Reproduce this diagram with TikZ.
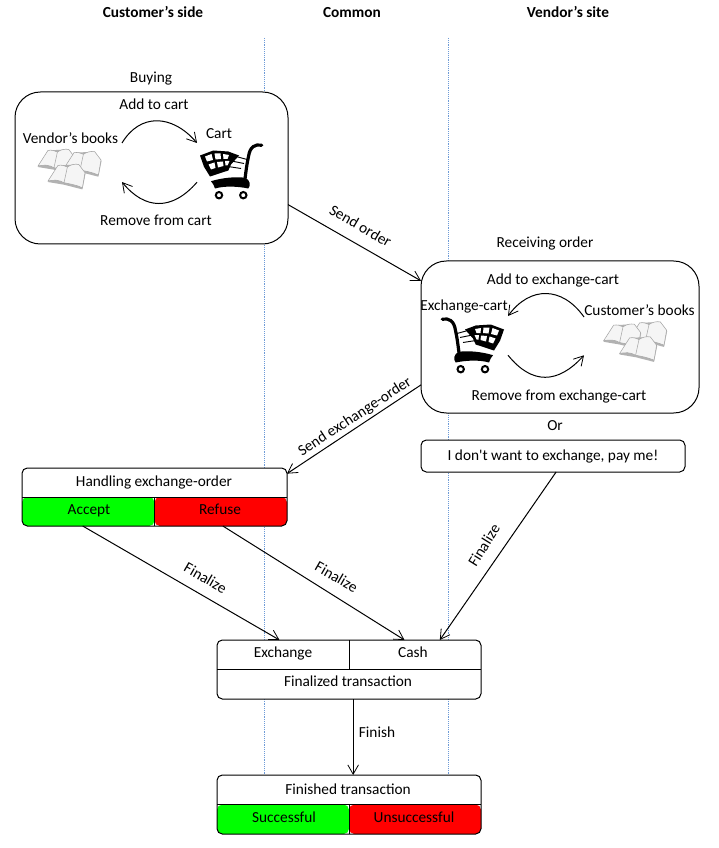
\documentclass[tikz,border=0pt]{standalone}
\usepackage{fontspec}
\setmainfont{Carlito}
\newfontfamily\straightfont{Carlito}
\usetikzlibrary{arrows.meta}
\definecolor{guideblue}{RGB}{110,155,215}
\tikzset{
    flow/.style={draw, line width=0.75pt, -{Straight Barb[length=7pt,width=8pt,line width=0.6pt]}},
    guide/.style={draw=guideblue, line width=0.4pt, densely dotted},
    panel/.style={draw, fill=white, line width=0.75pt, rounded corners=19pt, inner sep=0pt, outer sep=0pt},
    smallbox/.style={draw, fill=white, line width=0.75pt, rounded corners=4pt, inner sep=0pt, outer sep=0pt, minimum width=198pt},
    spot/.style={inner sep=0pt, outer sep=0pt, text height=8.5pt, text depth=2.5pt},
    blank/.style={inner sep=0pt, outer sep=0pt},
    verdict/.style={path picture={
        \fill[green] (path picture bounding box.west) rectangle (path picture bounding box.south);
        \fill[red] (path picture bounding box.south) rectangle (path picture bounding box.east);}},
    every node/.style={font=\fontsize{11.5}{14}\selectfont},
    pics/cartpic/.style={code={
        \draw[line width=2.4pt, line cap=round] (30.7,-25.3) .. controls (24,-26.5) and (19,-24) .. (17.5,-14) .. controls (15.5,-5) and (14.5,5) .. (13.5,12);
        \fill (-20,10.7) .. controls (-8,7) and (6,6) .. (14,7.3) .. controls (19,9) and (20,15) .. (17.3,18) .. controls (8,16) and (-6,15) .. (-16,18) .. controls (-17,15) and (-18,13) .. (-20,10.7);
        \fill (-31,-15) -- (-17.7,-20) -- (-2.7,-19) -- (8,-15) -- (0,-6) -- (-2.7,0) -- (-21,6) -- (-27,-3.7) -- cycle;
        \fill[white] (-26,-14) -- (-19.5,-16.5) -- (-18,-10.5) -- (-24,-9) -- cycle;
        \fill[white] (-16.5,-17) -- (-10.5,-17) -- (-10,-11.5) -- (-15.5,-11) -- cycle;
        \fill[white] (-8,-16.5) -- (-2,-15.5) -- (-3.5,-11.5) -- (-7.5,-11.5) -- cycle;
        \fill[white] (-22.5,-6) -- (-16.5,-8) -- (-15.5,-2.5) -- (-20,-1) -- cycle;
        \fill[white] (-14,-8.5) -- (-8,-9) -- (-7.5,-4.5) -- (-13,-3) -- cycle;
        \fill[white] (-6,-9.5) -- (-1.5,-9.5) -- (-3.5,-5) -- (-5.5,-5) -- cycle;
        \draw[line width=0.7pt] (-2,-16) to (16,-11);
        \draw[line width=0.7pt] (-2,-10) to (13,-7);
        \draw[line width=0.7pt] (-3,-4) to (10,-2);
        \draw[line width=1.5pt, fill=white] (-12,24.7) circle (3.2);
        \draw[line width=1.5pt, fill=white] (12.3,24.7) circle (3.2);
    }},
    pics/onebook/.style={code={
        \fill[black!30] (-18.7,5.3) -- (-2.7,8) -- (15.7,12.7) -- (18.8,-3) -- (12,-12.3) -- (-8.7,-11.3) -- cycle;
        \fill[black!4, draw=black!35, line width=0.4pt] (-18.7,4.3) -- (-8.7,-11.3) .. controls (-5,-12) and (-2,-11) .. (0.7,-9.7) .. controls (4,-12) and (8,-13) .. (12,-12.3) -- (18.3,-4) -- (15.7,11) .. controls (9,8) and (2,7) .. (-2.7,6) .. controls (-8,3) and (-13,3) .. (-18.7,4.3) -- cycle;
        \draw[black!35, line width=0.4pt] (0.7,-9.7) to (-2.7,6);
    }},
    pics/bookspic/.style={code={
        \pic at (-13.3,-9.3) {onebook};
        \pic at (12.7,-7) {onebook};
        \pic at (-3.3,5.7) {onebook};
    }},
}
\begin{document}
\begin{tikzpicture}[x=0.75pt, y=-0.75pt]
    \useasboundingbox (0,0) rectangle (718,848);
        \coordinate(lefttop) at (264,38);
        \coordinate(leftend) at (264,776);
        \coordinate(righttop) at (448,38);
        \coordinate(rightend) at (448,776);
        \draw[guide](lefttop) to (leftend);
        \draw[guide](righttop) to (rightend);

        \node[spot] (customerhead) at (153,13.5){\textbf{Customer’s side}};
        \node[spot] (commonhead) at (352,13.5){\textbf{Common}};
        \node[spot] (vendorhead) at (568,13.5){\textbf{Vendor’s site}};

        \node[spot] (buyinglabel) at (151,78.5){Buying};
        \node[panel, minimum width=204.75pt, minimum height=114pt] (buying) at (151.5,168){};
            \node[spot] (addcart) at (154,105.5){Add to cart};
            \node[spot] (vendorbooks) at (70.5,139.5){Vendor’s books};
            \node[spot] (cartlabel) at (219,134.5){Cart};
            \node[spot] (removecart) at (156,221.5){Remove from cart};
            \node[blank, minimum width=78pt, minimum height=42pt] (vendorstack) at (70,171){};
            \node[blank, minimum width=51pt, minimum height=41.25pt] (cartone) at (231,170.5){};
            \pic at (vendorstack) {bookspic};
            \pic at (cartone) {cartpic};
            \draw[flow](vendorstack.north east) .. controls (140,113) and (172,114) .. (cartone.north west);
            \draw[flow](cartone.199) .. controls (172,211) and (145,210) .. (vendorstack.-12);

        \node[spot] (receivinglabel) at (545,243.5){Receiving order};
        \node[panel, minimum width=208.5pt, minimum height=114pt] (receiving) at (560,337){};
            \node[spot] (addexchange) at (553,280.5){Add to exchange-cart};
            \node[spot] (exchangelabel) at (464,306.5){Exchange-cart};
            \node[spot] (customerbooks) at (639.5,311.5){Customer’s books};
            \node[spot] (removeexchange) at (559,396.5){Remove from exchange-cart};
            \node[blank, minimum width=52.5pt, minimum height=42.75pt] (carttwo) at (473,344.5){};
            \node[blank, minimum width=76.5pt, minimum height=39.75pt] (customerstack) at (635,343.5){};
            \pic[xscale=-1] at (carttwo) {cartpic};
            \pic[xscale=-1] at (customerstack) {bookspic};
            \draw[flow](customerstack.north west) .. controls (562,286) and (530,286) .. (carttwo.north east);
            \draw[flow](carttwo.-17) .. controls (532,385) and (558,384) .. (customerstack.193);

        \node[spot] (orlabel) at (555,426.5){Or};
        \node[smallbox, minimum height=24pt, font=\fontsize{11.5}{14}\straightfont] (refusal) at (553,456){I don't want to exchange, pay me!};

        \node[smallbox, verdict, minimum width=198.75pt, minimum height=43.5pt] (handling) at (154.5,497){};
            \draw[line width=0.75pt](handling.west) to (handling.east);
            \draw[line width=0.75pt](handling.center) to (handling.south);
            \node[spot] (handlinglabel) at (154,482.5){Handling exchange-order};
            \node[spot] (acceptlabel) at (89,510.5){Accept};
            \node[spot] (refuselabel) at (220,510.5){Refuse};

        \node[smallbox, minimum height=44.25pt] (finalized) at (349,669.5){};
            \draw[line width=0.75pt](finalized.west) to (finalized.east);
            \draw[line width=0.75pt](finalized.north) to (finalized.center);
            \node[spot] (exchangecell) at (283,653.5){Exchange};
            \node[spot] (cashcell) at (413,653.5){Cash};
            \node[spot] (finalizedlabel) at (348,682.5){Finalized transaction};

        \node[smallbox, verdict, minimum height=44.25pt] (finished) at (349,804.5){};
            \draw[line width=0.75pt](finished.west) to (finished.east);
            \draw[line width=0.75pt](finished.center) to (finished.south);
            \node[spot] (finishedlabel) at (348,790.5){Finished transaction};
            \node[spot] (successlabel) at (284,818.5){Successful};
            \node[spot] (failurelabel) at (414,818.5){Unsuccessful};

        \draw[flow](buying.-15) to (receiving.158);
            \node[spot, rotate=-30] (sendorder) at (360,227){Send order};
        \draw[flow](receiving.199) to (handling.10);
            \node[spot, rotate=33] (sendexchange) at (355,417){Send exchange-order};
        \draw[flow](handling.202) to (finalized.157);
            \node[spot, rotate=-30] (finalizeone) at (205,579){Finalize};
        \draw[flow](handling.-23) to (finalized.28);
            \node[spot, rotate=-30] (finalizetwo) at (336,578){Finalize};
        \draw[flow](refusal.-79) to (finalized.18);
            \node[spot, rotate=58] (finalizethree) at (485,546){Finalize};
        \draw[flow](finalized.-82) to (finished.82);
            \node[spot] (finishlabel) at (377,733.5){Finish};
\end{tikzpicture}
\end{document}
